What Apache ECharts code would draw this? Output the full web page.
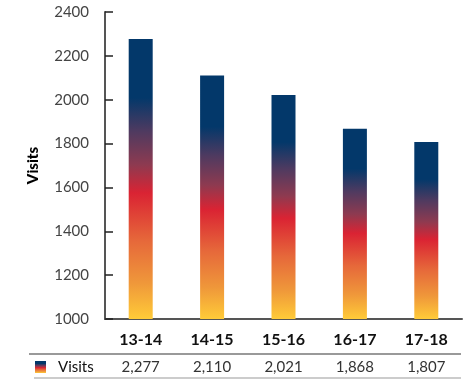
<!DOCTYPE html>
<html>
<head>
<meta charset="utf-8">
<script src="https://cdn.jsdelivr.net/npm/echarts@6/dist/echarts.min.js"></script>
<style>
  html, body { margin: 0; padding: 0; background: #fff; }
  #chart { width: 468px; height: 379px; }
</style>
</head>
<body>
<div id="chart"></div>
<script>
// Annual visits by financial year
const categories = ['13-14', '14-15', '15-16', '16-17', '17-18'];
const visits = [2277, 2110, 2021, 1868, 1807];
const yTicks = [1000, 1200, 1400, 1600, 1800, 2000, 2200, 2400];
const seriesName = 'Visits';

const FONT = 'Lato, "Open Sans", sans-serif';

// Vertical fill: dark navy cap fading through purple and red down to gold
function barFill() {
  return new echarts.graphic.LinearGradient(0, 0, 0, 1, [
    { offset: 0.00, color: '#03386a' },
    { offset: 0.21, color: '#03386a' },
    { offset: 0.33, color: '#4f3a60' },
    { offset: 0.45, color: '#8e3a50' },
    { offset: 0.55, color: '#da2333' },
    { offset: 0.72, color: '#e6683a' },
    { offset: 0.87, color: '#ef973a' },
    { offset: 1.00, color: '#ffcb38' }
  ]);
}

const chart = echarts.init(document.getElementById('chart'), null, { renderer: 'canvas' });

chart.setOption({
  animation: false,
  grid: { left: 105, right: 6, top: 12, bottom: 60 },
  xAxis: [
    {
      type: 'category',
      data: categories,
      axisLine: { lineStyle: { color: '#555', width: 2 } },
      axisTick: { inside: true, length: 6, lineStyle: { color: '#222', width: 1.5 } },
      axisLabel: { color: '#111', fontFamily: FONT, fontWeight: 'bold', fontSize: 16, margin: 13 }
    },
    {
      type: 'category',
      position: 'bottom',
      data: visits.map(v => v.toLocaleString('en-US')),
      axisLine: { show: false },
      axisTick: { show: false },
      axisLabel: { color: '#333', fontFamily: FONT, fontSize: 15, margin: 41 }
    }
  ],
  yAxis: {
    type: 'value',
    min: yTicks[0],
    max: yTicks[yTicks.length - 1],
    interval: yTicks[1] - yTicks[0],
    name: seriesName,
    nameLocation: 'middle',
    nameRotate: 90,
    nameGap: 64,
    nameTextStyle: { color: '#000', fontFamily: FONT, fontWeight: 900, fontSize: 15 },
    axisLine: { show: true, lineStyle: { color: '#555', width: 2 } },
    axisTick: { show: true, inside: true, length: 8, lineStyle: { color: '#222', width: 1.5 } },
    axisLabel: { color: '#444', fontFamily: FONT, fontSize: 15, margin: 16, formatter: v => String(v) },
    splitLine: { show: false }
  },
  series: [{
    name: seriesName,
    type: 'bar',
    xAxisIndex: 0,
    data: visits,
    barWidth: 24,
    itemStyle: { color: barFill() }
  }],
  graphic: [
    { type: 'line', shape: { x1: 29, y1: 354, x2: 461, y2: 354 }, style: { stroke: '#777', lineWidth: 1.5 } },
    { type: 'line', shape: { x1: 34, y1: 378, x2: 461, y2: 378 }, style: { stroke: '#bbb', lineWidth: 1.5 } },
    { type: 'rect', shape: { x: 35, y: 361, width: 11, height: 12 }, style: { fill: barFill() } },
    { type: 'text', x: 58, y: 367, style: { text: seriesName, fill: '#111', font: '15px ' + FONT, textVerticalAlign: 'middle', verticalAlign: 'middle' } }
  ]
});
</script>
</body>
</html>
